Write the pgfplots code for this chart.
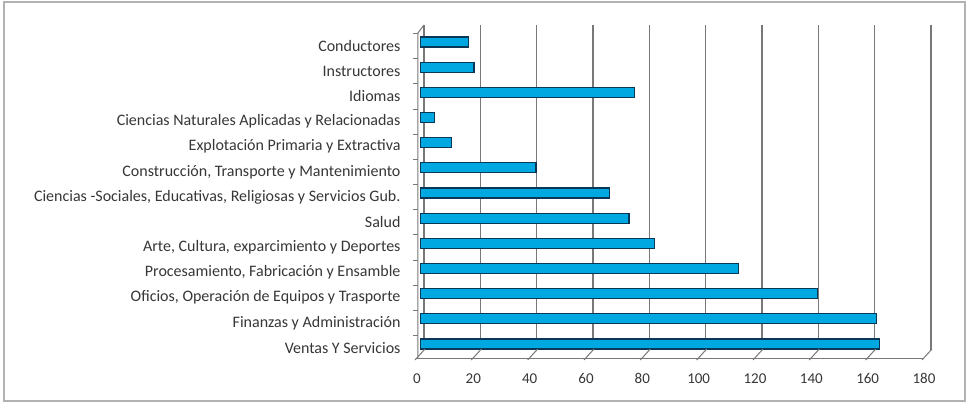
\documentclass[border=0pt]{standalone}
\usepackage{fontspec}
\setmainfont{Carlito}
\usepackage{pgfplots}
\pgfplotsset{compat=1.18}
\definecolor{barblue}{RGB}{0,168,225}
\definecolor{baredge}{RGB}{10,55,85}
\definecolor{gridgray}{RGB}{120,120,120}
\definecolor{txt}{RGB}{55,55,55}
\begin{document}
\begin{tikzpicture}[x=1pt,y=1pt]
\useasboundingbox (0,0) rectangle (970,405);
\fill[white] (0,0) rectangle (970,405);
\draw[black!30, line width=1.5pt] (4,4) rectangle (965,403);
\begin{axis}[
  at={(424pt,55pt)}, anchor=south west,
  scale only axis, width=507pt, height=325pt,
  xmin=0, xmax=180, ymin=-0.28, ymax=12.64,
  xbar, bar width=10pt,
  axis x line*=bottom, axis y line*=left,
  axis line style={draw=none},
  major tick length=0pt,
  xtick={0,20,...,180}, ytick={0,...,12},
  yticklabels={Ventas Y Servicios, Finanzas y Administración, {Oficios, Operación de Equipos y Trasporte}, {Procesamiento, Fabricación y Ensamble}, {Arte, Cultura, exparcimiento y Deportes}, Salud, {Ciencias -Sociales, Educativas, Religiosas y Servicios Gub.}, {Construcción, Transporte y Mantenimiento}, Explotación Primaria y Extractiva, Ciencias Naturales Aplicadas y Relacionadas, Idiomas, Instructores, Conductores},
  xmajorgrids, grid style={gridgray, line width=1.1pt},
  xticklabel style={xshift=-7pt, yshift=-20pt, font=\fontsize{15}{17}\selectfont},
  yticklabel style={xshift=-20pt, yshift=-5pt, font=\fontsize{16}{18}\selectfont},
  tick label style={text=txt},
  /pgf/number format/assume math mode=true,
  clip=false,
]
\addplot[fill=barblue, draw=baredge, line width=1.2pt, xshift=-3.5pt, yshift=-1pt] coordinates {
  (163,0) (162,1) (141,2) (113,3) (83,4) (74,5) (67,6) (41,7) (11,8) (5,9) (76,10) (19,11) (17,12)};
% floor and walls (decoration)
\draw[gridgray, line width=1pt] ([xshift=-7pt,yshift=-8pt]axis cs:0,-0.28) -- ([xshift=-7pt,yshift=-8pt]axis cs:180,-0.28);
\pgfplotsinvokeforeach{0,20,...,180}{
  \draw[gridgray, line width=1pt] ([xshift=1pt,yshift=1pt]axis cs:#1,-0.28) -- ([xshift=-9pt,yshift=-10pt]axis cs:#1,-0.28);
}
\draw[gridgray, line width=1pt] ([xshift=-6pt,yshift=-8pt]axis cs:0,-0.28) -- ([xshift=-6pt,yshift=-8pt]axis cs:0,12.64) -- (axis cs:0,12.64);
\pgfplotsinvokeforeach{0,...,12}{
  \draw[gridgray, line width=0.8pt] ([xshift=-11pt,yshift=-5pt]axis cs:0,#1+0.5) -- ([xshift=-6pt,yshift=-5pt]axis cs:0,#1+0.5);
}
\end{axis}
\end{tikzpicture}
\end{document}
